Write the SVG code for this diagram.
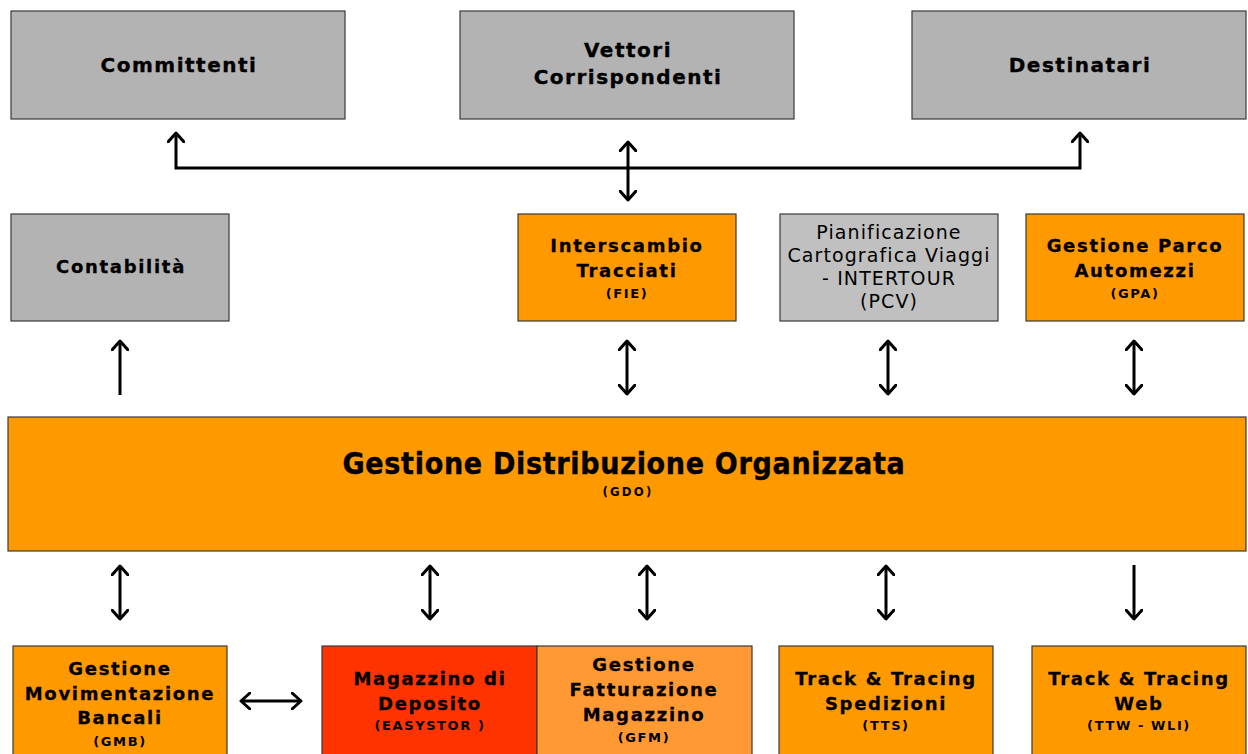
<svg xmlns="http://www.w3.org/2000/svg" width="1248" height="754" viewBox="0 0 1248 754">
<style>
.box{stroke:#3a3a3a;stroke-width:1.2}
.gray{fill:#b3b3b3}
.lgray{fill:#c0c0c0}
.orange{fill:#ff9900}
.red{fill:#ff3300}
.lorange{fill:#ff9933}
text{font-family:"DejaVu Sans","Verdana",sans-serif;fill:#000;text-anchor:middle}
.t20{font-size:20px;font-weight:bold;letter-spacing:1.5px;stroke:#000;stroke-width:0.35}
.t18{font-size:18px;font-weight:bold;letter-spacing:1.7px;stroke:#000;stroke-width:0.3}
.reg{font-size:19px;font-weight:normal;letter-spacing:1.1px}
.sm{font-size:13px;font-weight:bold;letter-spacing:1.6px}
.gdo{font-family:"DejaVu Sans Condensed","DejaVu Sans",sans-serif;font-stretch:condensed;font-size:30px;font-weight:bold;letter-spacing:0.7px;stroke:#000;stroke-width:0.4}
.gdos{font-family:"DejaVu Sans Condensed","DejaVu Sans",sans-serif;font-stretch:condensed;font-size:13px;font-weight:bold;letter-spacing:2.2px}
.con{fill:none;stroke:#000;stroke-width:3}
</style>
<defs>
<marker id="ah" viewBox="0 0 12 18" refX="10" refY="9" markerWidth="12" markerHeight="18" markerUnits="userSpaceOnUse" orient="auto-start-reverse">
<path d="M1,1 L10,9 L1,17" fill="none" stroke="#000" stroke-width="3" stroke-linecap="round" stroke-linejoin="round"/>
</marker>
</defs>
<rect width="1248" height="754" fill="#fff"/>

<g id="committenti"><rect class="box gray" x="11" y="11" width="334" height="108"/><text class="t20" x="179" y="72">Committenti</text></g>
<g id="vettori"><rect class="box gray" x="460" y="11" width="334" height="108"/><text class="t20" x="628" y="57">Vettori</text><text class="t20" x="628" y="84">Corrispondenti</text></g>
<g id="destinatari"><rect class="box gray" x="912" y="11" width="334" height="108"/><text class="t20" x="1080" y="72">Destinatari</text></g>

<g id="contabilita"><rect class="box gray" x="11" y="214" width="218" height="107"/><text class="t18" x="121" y="273">Contabilità</text></g>
<g id="fie"><rect class="box orange" x="518" y="214" width="218" height="107"/><text class="t18" x="627" y="252">Interscambio</text><text class="t18" x="627" y="277">Tracciati</text><text class="sm" x="627" y="298">(FIE)</text></g>
<g id="pcv"><rect class="box lgray" x="780" y="214" width="218" height="107"/><text class="reg" x="889" y="239">Pianificazione</text><text class="reg" x="889" y="262">Cartografica Viaggi</text><text class="reg" x="889" y="285">- INTERTOUR</text><text class="reg" x="889" y="308">(PCV)</text></g>
<g id="gpa"><rect class="box orange" x="1026" y="214" width="218" height="107"/><text class="t18" x="1135" y="252">Gestione Parco</text><text class="t18" x="1135" y="277">Automezzi</text><text class="sm" x="1135" y="298">(GPA)</text></g>

<g id="gdo"><rect class="box orange" x="8" y="417" width="1238" height="134"/><text class="gdo" x="624" y="474">Gestione Distribuzione Organizzata</text><text class="gdos" x="628" y="496">(GDO)</text></g>

<g id="gmb"><rect class="box orange" x="13" y="646" width="214" height="120"/><text class="t18" x="120" y="675">Gestione</text><text class="t18" x="120" y="700">Movimentazione</text><text class="t18" x="120" y="724">Bancali</text><text class="sm" x="120" y="746">(GMB)</text></g>
<g id="easystor"><rect class="box red" x="322" y="646" width="215" height="120"/><text class="t18" x="430" y="685">Magazzino di</text><text class="t18" x="430" y="710">Deposito</text><text class="sm" x="430" y="730">(EASYSTOR )</text></g>
<g id="gfm"><rect class="box lorange" x="537" y="646" width="215" height="120"/><text class="t18" x="644" y="671">Gestione</text><text class="t18" x="644" y="696">Fatturazione</text><text class="t18" x="644" y="721">Magazzino</text><text class="sm" x="644" y="742">(GFM)</text></g>
<g id="tts"><rect class="box orange" x="779" y="646" width="214" height="120"/><text class="t18" x="886" y="685">Track &amp; Tracing</text><text class="t18" x="886" y="710">Spedizioni</text><text class="sm" x="886" y="730">(TTS)</text></g>
<g id="ttw"><rect class="box orange" x="1032" y="646" width="214" height="120"/><text class="t18" x="1139" y="685">Track &amp; Tracing</text><text class="t18" x="1139" y="710">Web</text><text class="sm" x="1139" y="730">(TTW - WLI)</text></g>

<g id="connectors">
<path class="con" d="M176,133 L176,168 L1080,168 L1080,133" marker-start="url(#ah)" marker-end="url(#ah)"/>
<path class="con" d="M628,142 L628,200" marker-start="url(#ah)" marker-end="url(#ah)"/>
<path class="con" d="M120,395 L120,341" marker-end="url(#ah)"/>
<path class="con" d="M627,341 L627,394" marker-start="url(#ah)" marker-end="url(#ah)"/>
<path class="con" d="M888,341 L888,394" marker-start="url(#ah)" marker-end="url(#ah)"/>
<path class="con" d="M1134,341 L1134,394" marker-start="url(#ah)" marker-end="url(#ah)"/>
<path class="con" d="M120,566 L120,619" marker-start="url(#ah)" marker-end="url(#ah)"/>
<path class="con" d="M430,566 L430,619" marker-start="url(#ah)" marker-end="url(#ah)"/>
<path class="con" d="M647,566 L647,619" marker-start="url(#ah)" marker-end="url(#ah)"/>
<path class="con" d="M886,566 L886,619" marker-start="url(#ah)" marker-end="url(#ah)"/>
<path class="con" d="M1134,565 L1134,619" marker-end="url(#ah)"/>
<path class="con" d="M241,701 L301,701" marker-start="url(#ah)" marker-end="url(#ah)"/>
</g>
</svg>
